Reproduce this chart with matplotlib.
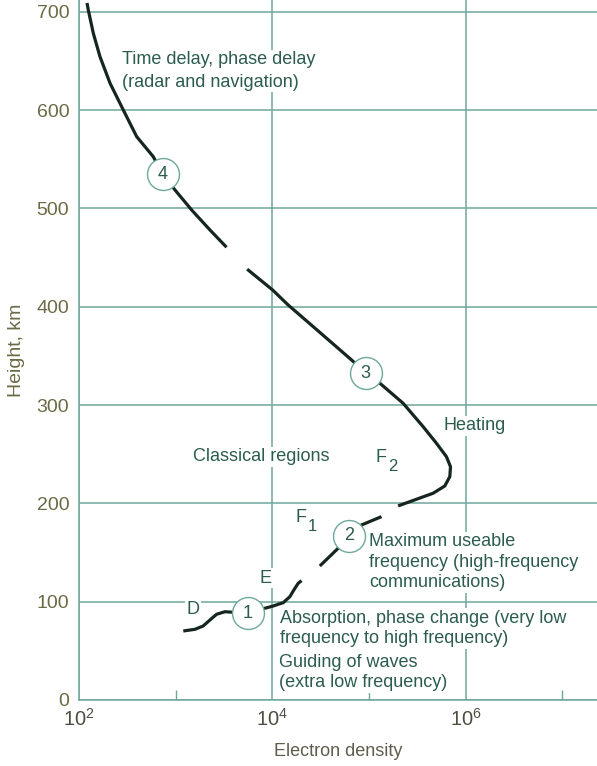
import numpy as np
import matplotlib
matplotlib.use('Agg')
import matplotlib.pyplot as plt

plt.rcParams['font.family'] = ['Liberation Sans', 'DejaVu Sans']
plt.rcParams['mathtext.fontset'] = 'custom'
plt.rcParams['mathtext.rm'] = 'Liberation Sans'
plt.rcParams['mathtext.it'] = 'Liberation Sans'

# profile pieces: log10(electron density) vs height in km
seg1_logn = [3.079, 3.200, 3.285, 3.355, 3.424, 3.510, 3.745, 3.923, 4.009, 4.113,
             4.182, 4.223, 4.268, 4.303]
seg1_km = [70.2, 71.9, 75.3, 81.4, 87.2, 89.8, 88.2, 93.3, 95.6, 99.0,
           105.1, 111.9, 118.7, 121.4]

seg2_logn = [4.492, 4.681, 4.792, 4.923, 5.130]
seg2_km = [136.3, 154.3, 167.0, 178.0, 186.5]

seg3_logn = [5.302, 5.492, 5.664, 5.785, 5.837, 5.844, 5.802, 5.699, 5.561, 5.354,
             5.113, 4.968, 4.820, 4.423, 4.164, 4.003, 3.740]
seg3_km = [197.4, 204.2, 210.3, 217.7, 227.2, 237.3, 247.5, 261.1, 278.0, 301.8,
           322.2, 332.4, 345.9, 379.8, 401.8, 417.1, 438.2]

seg4_logn = [3.527, 3.355, 3.165, 2.993, 2.866, 2.768, 2.597, 2.458, 2.321, 2.217,
             2.148, 2.096, 2.083]
seg4_km = [460.5, 478.1, 498.5, 518.8, 534.8, 552.7, 573.0, 600.2, 627.4, 654.4,
           678.2, 701.9, 709.0]

# numbered markers on the profile
circle_logn = [3.745, 4.792, 4.968, 2.866]
circle_km = [88.2, 167.0, 332.4, 534.8]
circle_labels = ['1', '2', '3', '4']

height_ticks = [0, 100, 200, 300, 400, 500, 600, 700]
density_ticks = [1e2, 1e4, 1e6]
density_minor = [1e3, 1e5, 1e7]

grid_col = '#6ea79c'
text_col = '#2b5c4e'
curve_col = '#15261f'
axis_txt = '#6b6a45'
fs = 13

fig = plt.figure(figsize=(5.97, 7.66), dpi=100)
ax = fig.add_axes([79 / 597, 66 / 766, 1 - 79 / 597, 700 / 766])
ax.set_xscale('log')
ax.set_xlim(1e2, 10 ** 7.36)
ax.set_ylim(0, 712)

for lg, km in [(seg1_logn, seg1_km), (seg2_logn, seg2_km),
               (seg3_logn, seg3_km), (seg4_logn, seg4_km)]:
    ax.plot(10 ** np.array(lg), km, color=curve_col, lw=2.3,
            solid_capstyle='butt', solid_joinstyle='round', zorder=3)

for lg, km, lab in zip(circle_logn, circle_km, circle_labels):
    ax.plot(10 ** lg, km, 'o', ms=23, mfc='white', mec=grid_col, mew=1.0, zorder=4)
    ax.text(10 ** lg, km, lab, ha='center', va='center', fontsize=fs,
            color=text_col, zorder=5)

box = dict(fc='white', ec='none', pad=1.0)
ax.text(10 ** 2.445, 640, 'Time delay, phase delay\n(radar and navigation)',
        ha='left', va='center', fontsize=fs, color=text_col, linespacing=1.42,
        bbox=box, zorder=2)
ax.text(10 ** 3.182, 247.5, 'Classical regions', ha='left', va='center',
        fontsize=fs, color=text_col, bbox=box, zorder=2)
ax.text(10 ** 5.775, 278.7, 'Heating', ha='left', va='center',
        fontsize=fs, color=text_col, bbox=box, zorder=2)
ax.text(10 ** 5.07, 246.5, 'F', ha='left', va='center', fontsize=fs,
        color=text_col, zorder=2)
ax.text(10 ** 5.20, 237.0, '2', ha='left', va='center', fontsize=12,
        color=text_col, zorder=2)
ax.text(10 ** 4.24, 185.5, 'F', ha='left', va='center', fontsize=fs,
        color=text_col, zorder=2)
ax.text(10 ** 4.37, 176.0, '1', ha='left', va='center', fontsize=12,
        color=text_col, zorder=2)
ax.text(10 ** 3.93, 123.8, 'E', ha='center', va='center', fontsize=fs,
        color=text_col, bbox=box, zorder=2)
ax.text(10 ** 3.182, 92.3, 'D', ha='center', va='center', fontsize=fs,
        color=text_col, bbox=box, zorder=2)
ax.text(10 ** 5.0, 140.0, 'Maximum useable\nfrequency (high-frequency\ncommunications)',
        ha='left', va='center', fontsize=fs, color=text_col, linespacing=1.27,
        bbox=box, zorder=2)
ax.text(10 ** 4.08, 72.7, 'Absorption, phase change (very low\nfrequency to high frequency)',
        ha='left', va='center', fontsize=fs, color=text_col, linespacing=1.27,
        bbox=box, zorder=2)
ax.text(10 ** 4.072, 27.7, 'Guiding of waves\n(extra low frequency)',
        ha='left', va='center', fontsize=fs, color=text_col, linespacing=1.25,
        bbox=box, zorder=2)

ax.set_xticks(density_ticks)
ax.set_xticklabels([r'$\mathregular{10^{%d}}$' % int(np.log10(t)) for t in density_ticks])
ax.set_xticks(density_minor, minor=True)
ax.set_xticklabels([], minor=True)
ax.set_yticks(height_ticks)
ax.tick_params(axis='x', which='major', length=0, pad=6, labelsize=14.5, labelcolor='#4d4d42')
ax.tick_params(axis='x', which='minor', direction='in', length=7, width=1.0, color=grid_col)
ax.tick_params(axis='y', length=0, pad=7, labelsize=14, labelcolor=axis_txt)
ax.grid(True, which='major', color=grid_col, lw=1.1, zorder=0)
ax.set_axisbelow(True)

for s in ['top', 'right']:
    ax.spines[s].set_visible(False)
for s in ['left', 'bottom']:
    ax.spines[s].set_color(grid_col)
    ax.spines[s].set_linewidth(1.1)

ax.set_xlabel('Electron density', fontsize=13, color='#5e5d4c', labelpad=9)
ax.set_ylabel('Height, km', fontsize=14, color=axis_txt, labelpad=8)

fig.savefig('out.png', dpi=100)
